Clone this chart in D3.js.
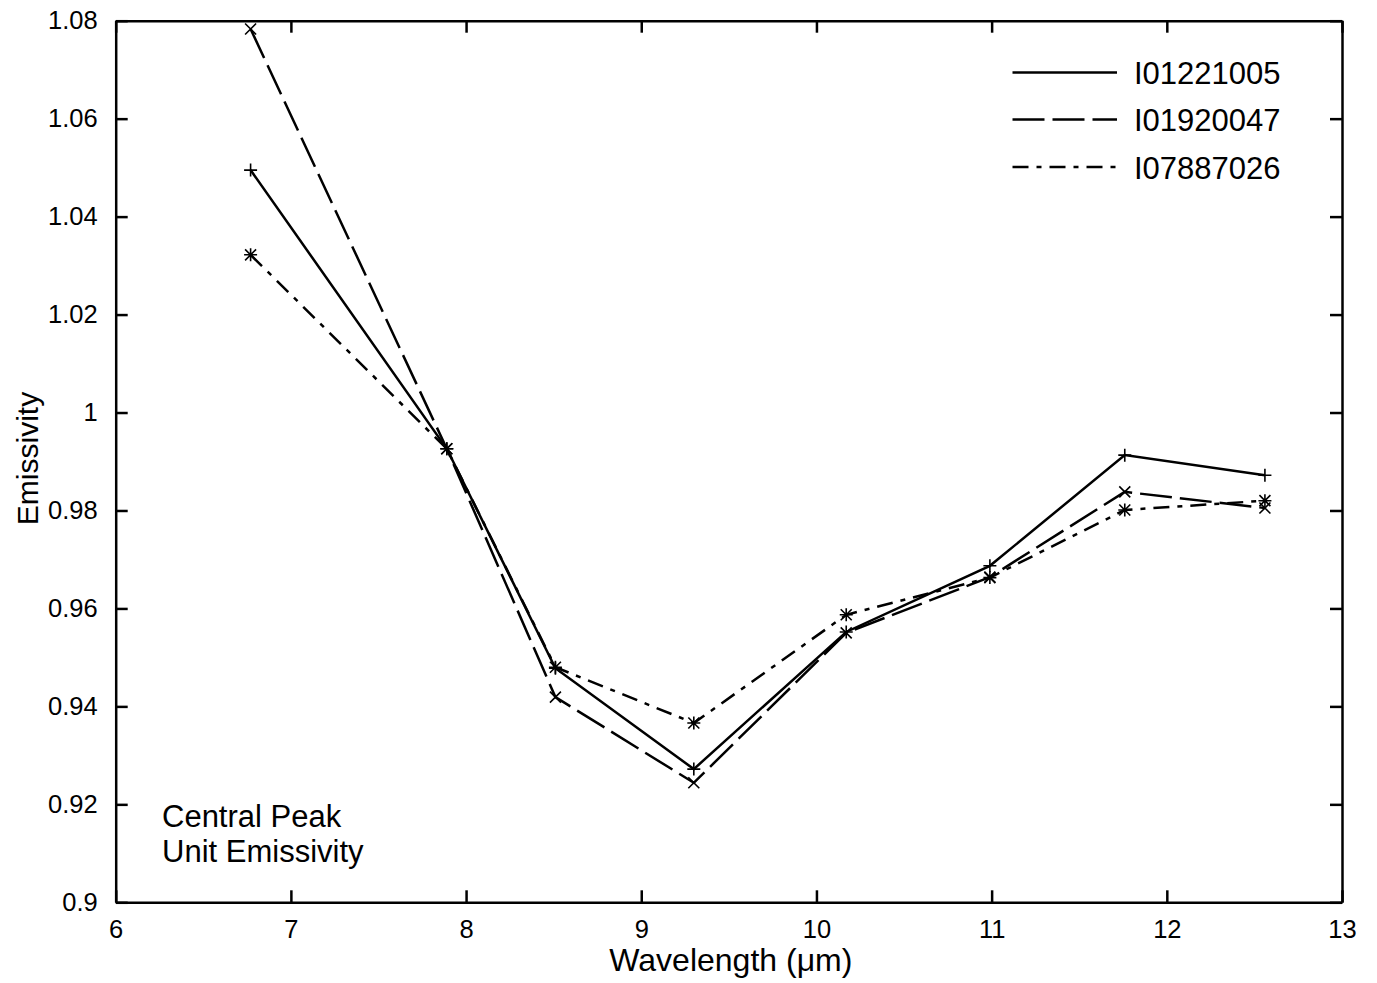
<!DOCTYPE html>
<html>
<head>
<meta charset="utf-8">
<script src="https://cdn.jsdelivr.net/npm/d3@7"></script>
<style>
  html, body { margin: 0; padding: 0; background: #fff; }
  svg { display: block; font-family: "Liberation Sans", Arial, Helvetica, sans-serif; }
</style>
</head>
<body>
<svg id="chart" width="1377" height="983"></svg>
<script>
// ---- data ----
const wavelengths = [6.77, 7.89, 8.51, 9.30, 10.17, 10.99, 11.76, 12.56];
const seriesNames = ["I01221005", "I01920047", "I07887026"];
const s1 = [1.0495, 0.9926, 0.9478, 0.9272, 0.9552, 0.9687, 0.9913, 0.9872];
const s2 = [1.0783, 0.9926, 0.9419, 0.9244, 0.9550, 0.9664, 0.9838, 0.9805];
const s3 = [1.0322, 0.9926, 0.9480, 0.9366, 0.9587, 0.9663, 0.9801, 0.9820];
const xTicks = [6, 7, 8, 9, 10, 11, 12, 13];
const xTickLabels = ["6", "7", "8", "9", "10", "11", "12", "13"];
const yTicks = [0.9, 0.92, 0.94, 0.96, 0.98, 1.0, 1.02, 1.04, 1.06, 1.08];
const yTickLabels = ["0.9", "0.92", "0.94", "0.96", "0.98", "1", "1.02", "1.04", "1.06", "1.08"];
const xTitle = "Wavelength (\u03bcm)";
const yTitle = "Emissivity";
const noteLines = ["Central Peak", "Unit Emissivity"];

// ---- layout ----
const L = 115.7, R = 1342, T = 20.7, B = 902.3;
const LW = 2.5;
const svg = d3.select("#chart");
const x = d3.scaleLinear().domain([6, 13]).range([L, R]);
const y = d3.scaleLinear().domain([0.9, 1.08]).range([B, T]);

const series = [
  { name: seriesNames[0], values: s1, dash: null, marker: "plus" },
  { name: seriesNames[1], values: s2, dash: "32,8", marker: "cross" },
  { name: seriesNames[2], values: s3, dash: "16,8,5,8", marker: "star" }
];

// axes
function styleAxis(g) {
  g.select(".domain").attr("stroke", "#000").attr("stroke-width", LW);
  g.selectAll(".tick line").attr("stroke", "#000").attr("stroke-width", LW);
  g.selectAll(".tick text").attr("fill", "#000").style("font-size", "25.5px")
    .style("font-family", "'Liberation Sans', Arial, Helvetica, sans-serif");
}
const xFmt = d => xTickLabels[xTicks.indexOf(d)];
const yFmt = d => yTickLabels[yTicks.findIndex(v => Math.abs(v - d) < 1e-9)];

svg.append("g").attr("transform", `translate(0,${B})`)
  .call(d3.axisBottom(x).tickValues(xTicks).tickFormat(xFmt).tickSize(-12).tickSizeOuter(0).tickPadding(18))
  .call(styleAxis);
svg.append("g").attr("transform", `translate(0,${T})`)
  .call(d3.axisTop(x).tickValues(xTicks).tickFormat("").tickSize(-12).tickSizeOuter(0))
  .call(styleAxis);
svg.append("g").attr("transform", `translate(${L},0)`)
  .call(d3.axisLeft(y).tickValues(yTicks).tickFormat(yFmt).tickSize(-12).tickSizeOuter(0).tickPadding(18))
  .call(styleAxis);
svg.append("g").attr("transform", `translate(${R},0)`)
  .call(d3.axisRight(y).tickValues(yTicks).tickFormat("").tickSize(-12).tickSizeOuter(0))
  .call(styleAxis);

// axis titles
svg.append("text").attr("x", (L + R) / 2 + 2).attr("y", 971).attr("text-anchor", "middle")
  .style("font-size", "32px").text(xTitle);
svg.append("text").attr("transform", `translate(38,${(T + B) / 2 - 3}) rotate(-90)`).attr("text-anchor", "middle")
  .style("font-size", "30px").text(yTitle);

// lines
const line = d3.line().x((d, i) => x(wavelengths[i])).y(d => y(d));
const plot = svg.append("g");
series.forEach(s => {
  plot.append("path").attr("d", line(s.values)).attr("fill", "none")
    .attr("stroke", "#000").attr("stroke-width", LW)
    .attr("stroke-dasharray", s.dash);
});

// markers
function markerPath(type, cx, cy) {
  const a = 6.5, b = 5.5;
  const plus = `M${cx - a},${cy}L${cx + a},${cy}M${cx},${cy - a}L${cx},${cy + a}`;
  const cross = `M${cx - b},${cy - b}L${cx + b},${cy + b}M${cx - b},${cy + b}L${cx + b},${cy - b}`;
  if (type === "plus") return plus;
  if (type === "cross") return cross;
  return plus + cross;
}
series.forEach(s => {
  plot.selectAll(null).data(s.values).enter().append("path")
    .attr("d", (d, i) => markerPath(s.marker, x(wavelengths[i]), y(d)))
    .attr("stroke", "#000").attr("stroke-width", 1.6).attr("fill", "none");
});

// legend
const legY = [72.5, 119.5, 167];
series.forEach((s, i) => {
  svg.append("line").attr("x1", 1012.5).attr("x2", 1117).attr("y1", legY[i]).attr("y2", legY[i])
    .attr("stroke", "#000").attr("stroke-width", LW).attr("stroke-dasharray", s.dash);
  svg.append("text").attr("x", 1134).attr("y", legY[i] + 11.5).style("font-size", "31px").text(s.name);
});

// annotation
noteLines.forEach((t, i) => {
  svg.append("text").attr("x", 162).attr("y", 826.5 + i * 35.5).style("font-size", "31px").text(t);
});
</script>
</body>
</html>
